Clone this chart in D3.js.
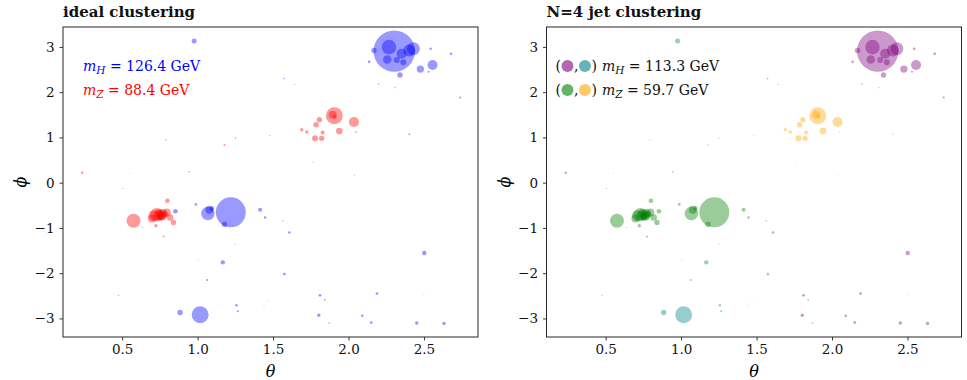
<!DOCTYPE html>
<html>
<head>
<meta charset="utf-8">
<script src="https://cdn.jsdelivr.net/npm/d3@7"></script>
<style>
  body { margin: 0; background: #fff; }
  svg text { font-family: "DejaVu Serif", serif; }
</style>
</head>
<body>
<svg id="chart" width="967" height="380"></svg>
<script>
// particle positions (theta, phi), transverse momentum, truth label and jet label
const theta = [2.303, 2.268, 2.169, 2.136, 2.257, 2.319, 2.363, 2.352, 2.403, 2.43,
  2.557, 2.476, 2.341, 2.544, 2.68, 2.53, 2.20, 2.31, 2.74, 0.977,
  1.573, 1.644, 2.05, 2.04, 0.944,
  0.235, 0.553, 0.505, 0.791, 1.178, 1.25, 1.478, 1.767, 2.403,
  1.906, 1.895, 1.908, 2.036, 1.939, 1.807, 1.785, 1.829, 1.69, 1.723, 1.778, 1.822,
  0.575, 0.73, 0.763, 0.796, 0.752, 0.80, 0.84, 0.723, 0.697, 0.818, 0.774, 0.637, 0.745, 0.78, 0.71,
  0.74, 0.77, 0.76,
  0.853, 0.988, 1.068, 1.078, 1.094, 1.22, 1.178, 1.25, 1.414, 1.447, 1.564, 1.608,
  1.167, 1.005, 1.063, 1.575, 2.502, 0.476, 0.884, 1.017, 1.257, 1.266,
  1.811, 1.842, 1.803, 1.871, 2.091, 2.151, 2.189, 2.452, 2.633, 2.50, 1.44, 1.47];
const phi = [2.907, 2.996, 2.92, 2.67, 2.72, 2.71, 2.66, 2.85, 2.92, 2.96,
  2.60, 2.51, 2.38, 2.96, 2.85, 2.45, 2.18, 2.10, 1.88, 3.13,
  2.30, 2.17, 1.12, 0.17, 0.24,
  0.22, 0.21, -0.13, 0.95, 0.83, 0.99, 1.04, 0.46, 1.07,
  1.48, 1.50, 1.46, 1.34, 1.14, 1.39, 1.28, 1.11, 1.17, 1.12, 0.98, 0.98,
  -0.84, -0.71, -0.73, -0.66, -0.75, -0.40, -0.88, -0.95, -0.79, -0.77, -1.19, -0.99, -0.68, -0.70, -0.73,
  -0.72, -0.68, -0.74,
  -0.63, -0.48, -0.68, -0.60, -0.57, -0.655, -0.92, -1.36, -0.60, -0.77, -0.84, -1.10,
  -1.76, -1.71, -2.15, -2.02, -1.555, -2.49, -2.87, -2.92, -2.71, -2.84,
  -2.49, -2.59, -2.93, -3.10, -2.94, -3.09, -2.45, -3.10, -3.11, -2.47, -2.71, -2.61];
const pt = [88.5, 11.0, 1.5, 0.35, 3.8, 1.86, 1.86, 5.2, 7.4, 8.7,
  5.2, 2.8, 1.5, 0.35, 0.35, 0.21, 0.10, 0.074, 0.21, 1.29,
  0.13, 0.074, 0.13, 0.074, 0.13,
  0.35, 0.05, 0.074, 0.13, 0.21, 0.13, 0.10, 0.074, 0.21,
  14.9, 3.3, 0.83, 5.2, 2.25, 1.5, 1.5, 0.83, 0.6, 0.6, 1.86, 1.5,
  10.1, 9.3, 5.2, 3.3, 2.25, 1.09, 1.5, 0.6, 3.3, 2.25, 0.21, 0.074, 4.2, 2.5, 6.25,
  5.2, 4.2, 3.3,
  1.09, 0.35, 9.3, 3.3, 1.09, 46.5, 1.5, 0.074, 0.83, 0.35, 0.10, 0.35,
  1.0, 0.05, 0.21, 0.4, 1.0, 0.10, 1.5, 14.9, 0.35, 0.21,
  0.4, 0.13, 0.6, 0.13, 0.35, 0.4, 0.4, 0.6, 0.6, 0.05, 0.05, 0.05];
const truth = ["H","H","H","H","H","H","H","H","H","H",
  "H","H","H","H","H","H","H","H","H","H",
  "H","Z","H","H","H",
  "Z","Z","Z","Z","Z","Z","Z","Z","Z",
  "Z","Z","Z","Z","Z","Z","Z","Z","Z","Z","Z","Z",
  "Z","Z","Z","Z","Z","Z","Z","Z","Z","Z","Z","Z","Z","Z","Z",
  "Z","Z","Z",
  "H","H","H","H","H","H","H","H","H","H","Z","H",
  "H","H","H","H","H","H","H","H","H","H",
  "H","H","H","H","H","H","H","H","H","H","H","H"];
const jet = [1,1,1,1,1,1,1,1,1,1,
  1,1,1,1,1,1,1,1,1,2,
  1,1,4,4,3,
  3,3,3,4,4,4,4,4,4,
  4,4,4,4,4,4,4,4,4,4,4,4,
  3,3,3,3,3,3,3,3,3,3,3,3,3,3,3,
  3,3,3,
  3,3,3,3,3,3,3,3,3,3,3,3,
  2,2,2,2,1,2,2,2,2,2,
  1,1,1,1,1,1,1,1,1,1,2,2];

const xTicks = [0.5, 1.0, 1.5, 2.0, 2.5];
const yTicks = [-3, -2, -1, 0, 1, 2, 3];
const titles = ["ideal clustering", "N=4 jet clustering"];
const idealMass = [126.4, 88.4];
const jetMass = [113.3, 59.7];
const truthColor = {H: "blue", Z: "red"};
const jetColor = {1: "purple", 2: "teal", 3: "green", 4: "orange"};

const svg = d3.select("#chart");
const W = 415, H = 310;
const x = d3.scaleLinear().domain([0.108, 2.858]).range([0, W]);
const y = d3.scaleLinear().domain([-3.41, 3.44]).range([H, 0]);
const r = d3.scaleSqrt().domain([0, 100]).range([0, 22]);
const pts = theta.map((t, i) => ({t: t, p: phi[i], e: pt[i], truth: truth[i], jet: jet[i]}));

function panel(left, title, colorOf) {
  const g = svg.append("g").attr("transform", "translate(" + left + ",27)");

  g.append("g").selectAll("circle")
    .data(pts)
    .enter().append("circle")
    .attr("cx", d => x(d.t))
    .attr("cy", d => y(d.p))
    .attr("r", d => r(d.e))
    .attr("fill", colorOf)
    .attr("fill-opacity", 0.4);

  const xa = g.append("g").attr("transform", "translate(0," + H + ")")
    .call(d3.axisBottom(x).tickValues(xTicks).tickSize(3.5).tickPadding(4).tickFormat(d3.format(".1f")));
  const ya = g.append("g")
    .call(d3.axisLeft(y).tickValues(yTicks).tickSize(3.5).tickPadding(5).tickFormat(d3.format("d")));
  [xa, ya].forEach(a => {
    a.attr("font-family", null);
    a.select(".domain").remove();
    a.selectAll("line").attr("stroke", "#262626").attr("stroke-width", 0.9);
    a.selectAll("text").attr("font-size", 13.5).attr("fill", "#111");
  });

  g.append("rect").attr("width", W).attr("height", H)
    .attr("fill", "none").attr("stroke", "#262626").attr("stroke-width", 1);

  g.append("text").attr("x", 0).attr("y", -10)
    .attr("font-weight", "bold").attr("font-size", 15).attr("fill", "#111")
    .text(title);

  g.append("text").attr("x", W / 2).attr("y", H + 40)
    .attr("text-anchor", "middle").attr("font-style", "italic").attr("font-size", 16)
    .text("θ");
  g.append("text").attr("transform", "translate(-37," + (H / 2) + ") rotate(-90)")
    .attr("text-anchor", "middle").attr("font-style", "italic").attr("font-size", 16)
    .text("ϕ");
  return g;
}

function massLabel(sel, sub, val) {
  sel.append("tspan").attr("font-style", "italic").text("m");
  sel.append("tspan").attr("font-style", "italic").attr("font-size", 10.5).attr("dy", 3).text(sub);
  sel.append("tspan").attr("dy", -3).text(" = " + val.toFixed(1) + " GeV");
}

// left panel
const g1 = panel(63, titles[0], d => truthColor[d.truth]);
["H", "Z"].forEach((k, i) => {
  const t = g1.append("text").attr("x", 20).attr("y", 44 + i * 24)
    .attr("font-size", 14).attr("fill", truthColor[k]);
  massLabel(t, k, idealMass[i]);
});

// right panel
const g2 = panel(546.5, titles[1], d => jetColor[d.jet]);
[[1, 2, "H"], [3, 4, "Z"]].forEach((row, i) => {
  const yy = 44 + i * 24;
  let cx = 9;
  const put = s => {
    const t = g2.append("text").attr("x", cx).attr("y", yy).attr("font-size", 14).attr("fill", "#111").text(s);
    cx += t.node().getComputedTextLength();
  };
  const dot = c => {
    g2.append("circle").attr("cx", cx + 6.5).attr("cy", yy - 5).attr("r", 6)
      .attr("fill", jetColor[c]).attr("fill-opacity", 0.6);
    cx += 13;
  };
  put("(");
  dot(row[0]);
  put(",");
  dot(row[1]);
  put(")");
  cx += 5;
  const t = g2.append("text").attr("x", cx).attr("y", yy).attr("font-size", 14).attr("fill", "#111");
  massLabel(t, row[2], jetMass[i]);
});
</script>
</body>
</html>
